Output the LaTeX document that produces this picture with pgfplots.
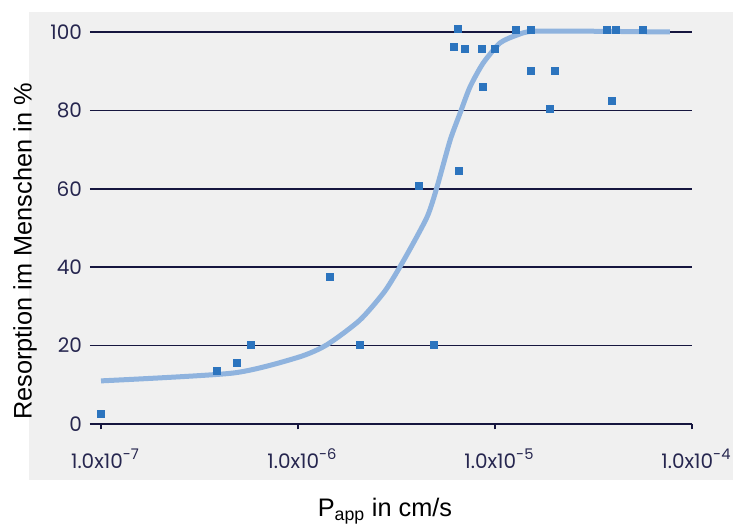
\documentclass[border=0pt]{standalone}
\usepackage{pgfplots}
\pgfplotsset{compat=1.18}
\usepackage{fontspec}
\setmainfont{Liberation Sans}
\newfontfamily\tickfont{Poppins}
\definecolor{navy}{HTML}{16163F}
\definecolor{ticktext}{HTML}{26264F}
\definecolor{curveblue}{HTML}{8FB3DE}
\definecolor{markblue}{HTML}{2C74BE}
\definecolor{panel}{HTML}{F0F0F0}
\newcommand{\sx}[1]{\raisebox{0.45em}{\fontsize{11}{12}\selectfont #1}}
\begin{document}
\begin{tikzpicture}
\useasboundingbox (-67.5pt,-75.75pt) rectangle (482.25pt,318pt);
\fill[panel] (-45.75pt,-42pt) rectangle (482.25pt,309pt);
\begin{axis}[
  at={(0pt,0pt)}, anchor=south west,
  scale only axis, width=451.5pt, height=294pt,
  xmode=log, xmin=8.79e-8, xmax=1e-4,
  ymin=0, ymax=100,
  clip=false,
  axis x line*=bottom, axis y line*=left,
  x axis line style={navy, line width=1.1pt, -},
  y axis line style={draw=none},
  xtick={1e-7,1e-6,1e-5,1e-4},
  xticklabels={1.0x10\sx{-7},1.0x10\sx{-6},1.0x10\sx{-5},1.0x10\sx{-4}},
  xminorticks=false,
  xtick align=outside,
  x tick style={navy, line width=1pt},
  ytick={0,20,40,60,80,100},
  y tick style={draw=none},
  major tick length=4pt,
  ymajorgrids,
  grid style={navy, line width=1.1pt},
  /pgf/number format/assume math mode=true,
  xticklabel style={font=\tickfont\fontsize{15}{17}\selectfont, text=ticktext, yshift=-11pt, xshift=3pt},
  yticklabel style={font=\tickfont\fontsize{15}{17}\selectfont, text=ticktext, xshift=-2.5pt},
  xlabel={P\textsubscript{app} in cm/s},
  ylabel={Resorption im Menschen in \%},
  every axis x label/.style={at={(axis description cs:0.49,-0.237)}, anchor=base, font=\fontsize{19}{22}\selectfont, text=black},
  every axis y label/.style={at={(axis description cs:-0.108,0.44)}, anchor=center, rotate=90, font=\fontsize{19}{22}\selectfont, text=black},
]
\addplot[curveblue, line width=3.75pt, smooth, tension=0.4] coordinates {
 (1e-7,11) (4.68e-7,13) (1e-6,17) (1.40e-6,20.2) (2.06e-6,26.5) (2.77e-6,34)
 (3.49e-6,42.3) (4.52e-6,52.8) (5.08e-6,60.5) (5.92e-6,72.4) (6.65e-6,79.3)
 (7.47e-6,86) (8.69e-6,92) (1.06e-5,97.2) (1.29e-5,99.2) (1.56e-5,100.2)
 (3e-5,100.2) (7.73e-5,100)
};
\addplot[only marks, mark=square*, mark size=2.6pt, color=markblue] coordinates {
 (1e-7,2.5) (3.88e-7,13.5) (4.9e-7,15.6) (5.77e-7,20.2) (1.45e-6,37.5)
 (2.06e-6,20.2) (4.11e-6,60.7) (4.9e-6,20.2) (6.19e-6,96.2) (6.49e-6,100.8)
 (6.57e-6,64.5) (7.05e-6,95.7) (8.6e-6,95.7) (8.69e-6,86) (1e-5,95.7)
 (1.28e-5,100.5) (1.52e-5,100.5) (1.52e-5,90) (1.9e-5,80.4) (2.02e-5,90)
 (3.71e-5,100.5) (4.11e-5,100.5) (3.93e-5,82.4) (5.64e-5,100.5)
};
\end{axis}
\end{tikzpicture}
\end{document}
